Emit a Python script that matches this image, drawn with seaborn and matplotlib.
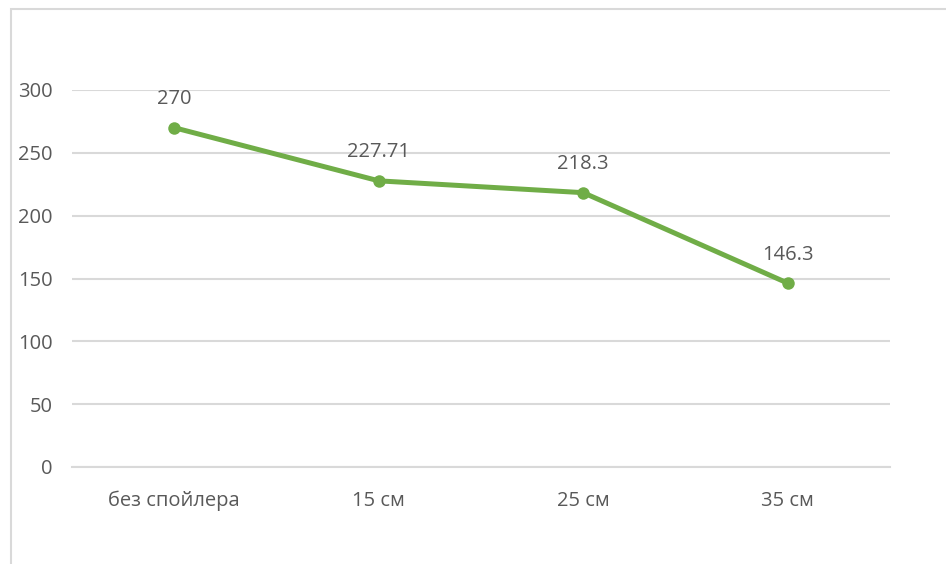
import matplotlib
matplotlib.use("Agg")
import matplotlib.pyplot as plt
from matplotlib.patches import Rectangle
import seaborn as sns
import pandas as pd
import numpy as np

categories = ["без спойлера", "15 см", "25 см", "35 см"]
values = [270, 227.71, 218.3, 146.3]
value_labels = ["270", "227.71", "218.3", "146.3"]
y_ticks = [0, 50, 100, 150, 200, 250, 300]

sns.set_theme(style="white")
plt.rcParams["font.family"] = ["Open Sans", "DejaVu Sans"]

TEXT = "#595959"
GRID = "#d9d9d9"
GREEN = "#70ad47"

fig = plt.figure(figsize=(9.46, 5.64), dpi=100)
ax = fig.add_axes([72 / 946, 1 - 467 / 564, (890 - 72) / 946, (467 - 90) / 564])

df = pd.DataFrame({"category": categories, "value": values})
sns.lineplot(data=df, x="category", y="value", sort=False, ax=ax,
             color=GREEN, linewidth=3.6, marker="o", markersize=9,
             markeredgewidth=0, zorder=3)

for i, (v, lab) in enumerate(zip(values, value_labels)):
    ax.annotate(lab, (i, v), xytext=(0, 17), textcoords="offset points",
                ha="center", va="baseline", fontsize=14.5, color=TEXT)

ax.set_xlim(-0.5, len(categories) - 0.5)
ax.set_ylim(0, 300)
ax.set_yticks(y_ticks)
ax.set_xticks(range(len(categories)))
ax.set_xticklabels(categories)
ax.set_xticks(np.arange(-0.5, len(categories), 1.0), minor=True)

ax.grid(axis="y", color=GRID, linewidth=1.5)
ax.set_axisbelow(True)
ax.set_xlabel("")
ax.set_ylabel("")

for side in ("left", "top", "right"):
    ax.spines[side].set_visible(False)
ax.spines["bottom"].set_color(GRID)
ax.spines["bottom"].set_linewidth(1.5)

ax.tick_params(axis="y", length=0, pad=14, labelsize=14.5, labelcolor=TEXT)
ax.tick_params(axis="x", which="major", length=0, pad=17, labelsize=14.5, labelcolor=TEXT)
ax.tick_params(axis="x", which="minor", length=4.5, width=1.5, color=GRID, direction="out")

# chart area frame
fig.patches.append(Rectangle((10.5 / 946, -0.2), 2.0, 1.2 - 8.5 / 564,
                             transform=fig.transFigure, fill=False,
                             edgecolor=GRID, linewidth=1.5, clip_on=False))

fig.savefig("out.png", dpi=100, facecolor="white")
